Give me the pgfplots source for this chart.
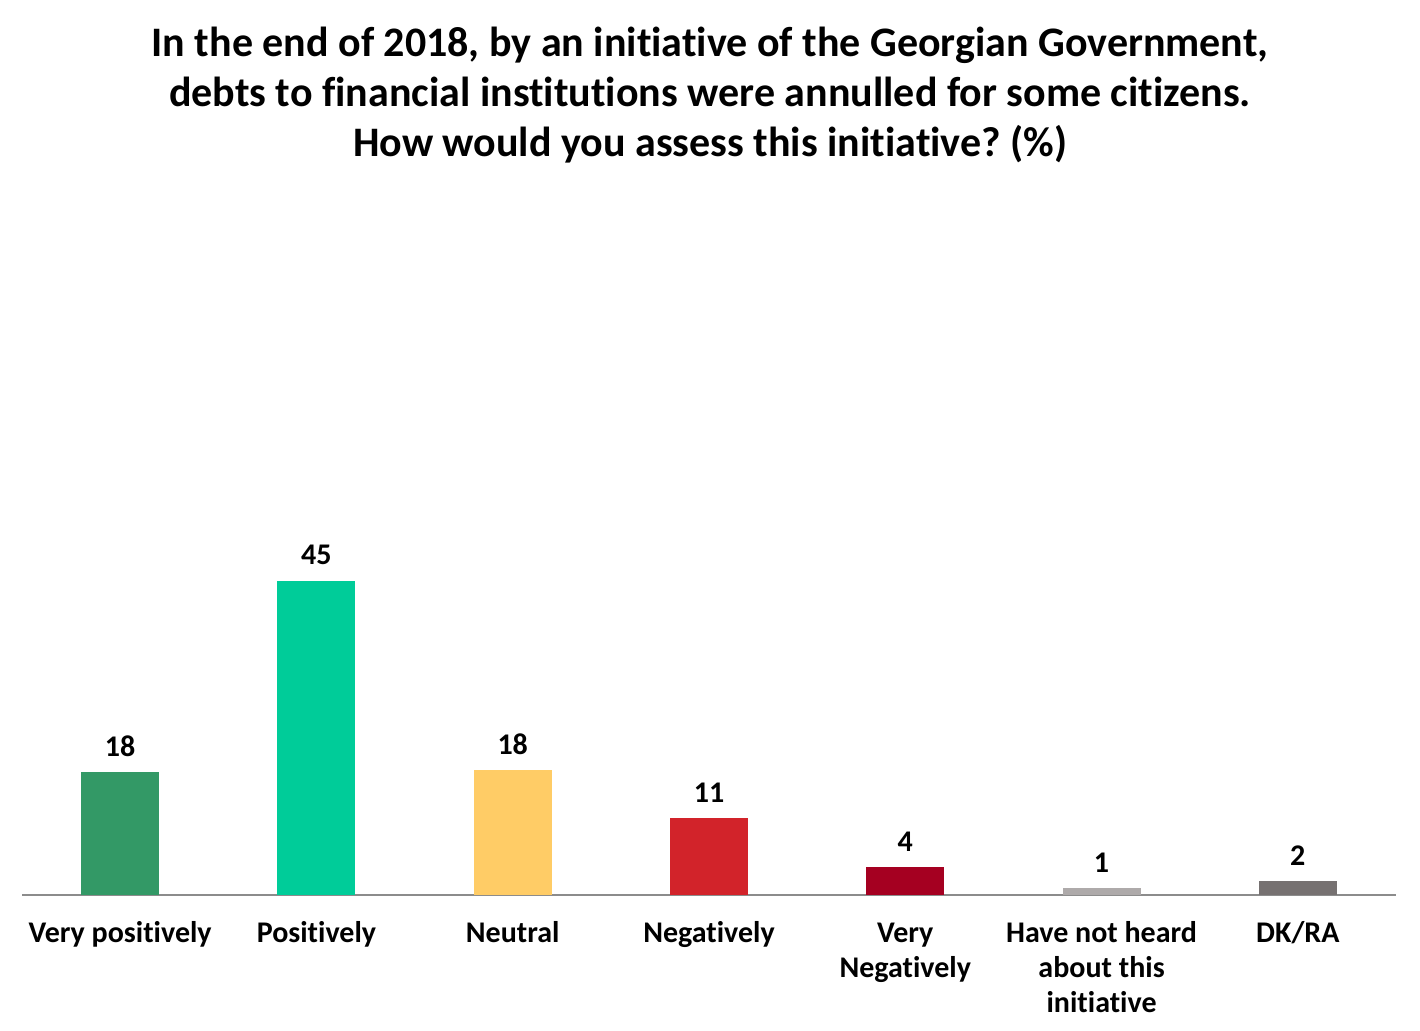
\documentclass[border=0pt]{standalone}
\usepackage{fontspec}
\setmainfont{Carlito}[RawFeature=-liga]
\usepackage{pgfplots}
\pgfplotsset{compat=1.18}
\frenchspacing
\definecolor{cA}{HTML}{339966}
\definecolor{cB}{HTML}{00CC99}
\definecolor{cC}{HTML}{FFCC66}
\definecolor{cD}{HTML}{D2232A}
\definecolor{cE}{HTML}{A50021}
\definecolor{cF}{HTML}{AEAAAA}
\definecolor{cG}{HTML}{767171}
\begin{document}
\begin{tikzpicture}
\useasboundingbox (-11pt,-68pt) rectangle (699pt,447.5pt);
\begin{axis}[
  at={(0pt,0pt)}, anchor=south west,
  scale only axis, width=687pt, height=349pt,
  xmin=-0.5, xmax=6.5, ymin=0, ymax=100,
  axis x line=bottom, axis y line=none,
  x axis line style={-, draw=black!45, line width=0.6pt},
  ytick=\empty,
  xtick={0,1,2,3,4,5,6},
  xticklabels={\strut Very positively, \strut Positively, \strut Neutral, \strut Negatively, {\strut Very\\Negatively}, {\strut Have not heard\\about this\\initiative}, \strut DK/RA},
  major tick length=0pt,
  xticklabel style={align=center, anchor=north, yshift=-11.25pt, inner sep=0pt, font=\fontsize{15}{17.5}\selectfont\bfseries},
  ybar, bar width=39pt, bar shift=0pt,
  nodes near coords,
  point meta=y,
  nodes near coords style={/pgf/number format/fixed, /pgf/number format/precision=0, /pgf/number format/assume math mode=true},
  every node near coord/.append style={anchor=base, yshift=8pt, inner sep=0pt, font=\fontsize{15}{17}\selectfont\bfseries, text=black},
  clip=false,
]
\addplot[fill=cA, draw=none] coordinates {(0,17.6)};
\addplot[fill=cB, draw=none] coordinates {(1,45)};
\addplot[fill=cC, draw=none] coordinates {(2,17.9)};
\addplot[fill=cD, draw=none] coordinates {(3,11)};
\addplot[fill=cE, draw=none] coordinates {(4,4)};
\addplot[fill=cF, draw=none] coordinates {(5,1)};
\addplot[fill=cG, draw=none] coordinates {(6,2)};
\end{axis}
\node[anchor=base, font=\fontsize{21}{25}\selectfont\bfseries] at (344pt,419pt) {In the end of 2018, by an initiative of the Georgian Government,};
\node[anchor=base, font=\fontsize{21}{25}\selectfont\bfseries] at (344pt,394pt) {debts to financial institutions were annulled for some citizens.};
\node[anchor=base, font=\fontsize{21}{25}\selectfont\bfseries] at (344pt,369pt) {How would you assess this initiative? (\%)};
\end{tikzpicture}
\end{document}
